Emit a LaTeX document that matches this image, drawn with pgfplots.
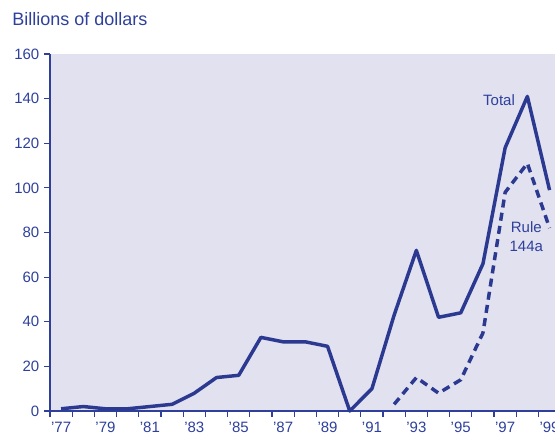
\documentclass[border=0pt]{standalone}
\usepackage{fontspec}
\setmainfont{Liberation Sans}
\usepackage{pgfplots}
\pgfplotsset{compat=1.18}
\definecolor{linecol}{RGB}{43,57,144}
\definecolor{textcol}{RGB}{46,64,156}
\definecolor{bgcol}{RGB}{225,225,239}
\begin{document}
\begin{tikzpicture}
\begin{axis}[
  scale only axis, width=383pt, height=267.75pt,
  xmin=1976.5, xmax=1999.5, ymin=0, ymax=160,
  axis x line=bottom, axis y line=left,
  axis line style={-, draw=textcol, line width=0.9pt},
  axis background/.style={fill=bgcol},
  xtick={1977,1979,...,1999},
  xticklabels={'77,'79,'81,'83,'85,'87,'89,'91,'93,'95,'97,'99},
  minor xtick={1976.5,1977.5,...,1999.5},
  ytick={0,20,...,160},
  tick align=outside, major tick length=4.5pt, minor tick length=4.5pt,
  tick style={draw=textcol, line width=0.9pt},
  major x tick style={draw=none},
  ticklabel style={text=textcol, font=\fontsize{11.25}{13}\selectfont},
  /pgf/number format/assume math mode=true,
  clip=false,
]
\addplot[linecol, line width=2.6pt, line join=round] coordinates {
(1977,1) (1978,2) (1979,1) (1980,1) (1981,2) (1982,3) (1983,8) (1984,15)
(1985,16) (1986,33) (1987,31) (1988,31) (1989,29) (1990,0) (1991,10)
(1992,43) (1993,72) (1994,42) (1995,44) (1996,66) (1997,118) (1998,141) (1999,99)};
\addplot[linecol, line width=2.6pt, line join=round, dash pattern=on 6pt off 4pt] coordinates {
(1992,3) (1993,15) (1994,8) (1995,14) (1996,35) (1997,98) (1998,111) (1999,82)};
\node[anchor=base east, inner sep=0, text=textcol, font=\fontsize{11.25}{13}\selectfont] at (axis cs:1997.45,137) {Total};
\node[anchor=base, inner sep=0, text=textcol, font=\fontsize{11.25}{13}\selectfont] at (axis cs:1997.95,79.8) {Rule};
\node[anchor=base, inner sep=0, text=textcol, font=\fontsize{11.25}{13}\selectfont] at (axis cs:1997.95,71.3) {144a};
\end{axis}
\node[anchor=base west, inner sep=0, text=textcol, font=\fontsize{13.5}{16}\selectfont] at (-28.5pt,288.75pt) {Billions of dollars};
\pgfresetboundingbox
\path[use as bounding box] (-37.5pt,-18pt) rectangle (378.75pt,308.25pt);
\end{tikzpicture}
\end{document}
